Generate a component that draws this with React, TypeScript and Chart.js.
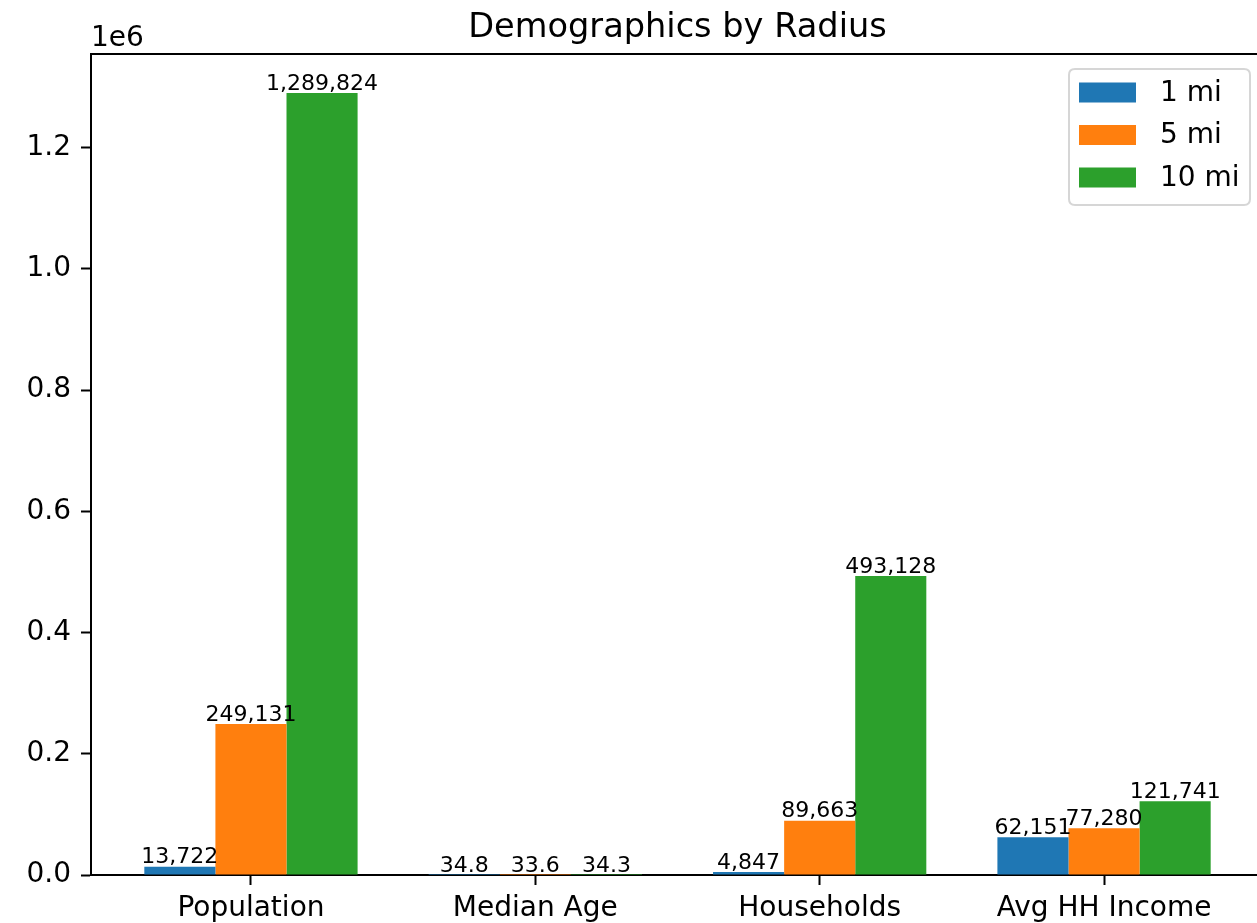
import React, { useEffect, useRef } from "react";
import { Chart, registerables } from "chart.js";

Chart.register(...registerables);

const categories = ["Population", "Median Age", "Households", "Avg HH Income"];
const seriesLabels = ["1 mi", "5 mi", "10 mi"];
const mi1 = [13722, 34.8, 4847, 62151];
const mi5 = [249131, 33.6, 89663, 77280];
const mi10 = [1289824, 34.3, 493128, 121741];
const seriesColors = ["#1f77b4", "#ff7f0e", "#2ca02c"];
const yTickValues = [0, 200000, 400000, 600000, 800000, 1000000, 1200000];
const titleText = "Demographics by Radius";
const offsetText = "1e6";

const FONT = "'DejaVu Sans', sans-serif";
const CANVAS_W = 1300;
const CANVAS_H = 923;

const fmt = (v: number) =>
  Number.isInteger(v) ? v.toLocaleString("en-US") : String(v);

const decorPlugin = {
  id: "decor",
  afterDatasetsDraw(chart: any) {
    const ctx = chart.ctx;
    ctx.save();
    ctx.fillStyle = "#000";
    ctx.font = `22px ${FONT}`;
    ctx.textAlign = "center";
    ctx.textBaseline = "bottom";
    chart.data.datasets.forEach((ds: any, di: number) => {
      const meta = chart.getDatasetMeta(di);
      meta.data.forEach((el: any, i: number) => {
        const v = ds.data[i].y;
        ctx.fillText(fmt(v), el.x, el.y + 2);
      });
    });
    ctx.restore();
  },
  afterDraw(chart: any) {
    const ctx = chart.ctx;
    const a = chart.chartArea;
    ctx.save();
    ctx.strokeStyle = "#000";
    ctx.lineWidth = 2;
    ctx.beginPath();
    ctx.moveTo(a.left - 1, a.top);
    ctx.lineTo(a.right + 1, a.top);
    ctx.stroke();
    ctx.beginPath();
    ctx.moveTo(a.right, a.top);
    ctx.lineTo(a.right, a.bottom);
    ctx.stroke();
    ctx.fillStyle = "#000";
    ctx.font = `33.6px ${FONT}`;
    ctx.textAlign = "center";
    ctx.textBaseline = "alphabetic";
    ctx.fillText(titleText, (a.left + a.right) / 2, a.top - 17);
    ctx.font = `28px ${FONT}`;
    ctx.textAlign = "left";
    ctx.fillText(offsetText, a.left, a.top - 8);
    const bx = 1069, by = 69, bw = 181, bh = 136, r = 6;
    ctx.beginPath();
    ctx.moveTo(bx + r, by);
    ctx.lineTo(bx + bw - r, by);
    ctx.quadraticCurveTo(bx + bw, by, bx + bw, by + r);
    ctx.lineTo(bx + bw, by + bh - r);
    ctx.quadraticCurveTo(bx + bw, by + bh, bx + bw - r, by + bh);
    ctx.lineTo(bx + r, by + bh);
    ctx.quadraticCurveTo(bx, by + bh, bx, by + bh - r);
    ctx.lineTo(bx, by + r);
    ctx.quadraticCurveTo(bx, by, bx + r, by);
    ctx.closePath();
    ctx.fillStyle = "rgba(255,255,255,0.8)";
    ctx.fill();
    ctx.strokeStyle = "#d6d6d6";
    ctx.lineWidth = 2;
    ctx.stroke();
    ctx.textBaseline = "middle";
    ctx.font = `28px ${FONT}`;
    chart.data.datasets.forEach((ds: any, i: number) => {
      const cy = 92.5 + i * 42.5;
      ctx.fillStyle = ds.backgroundColor;
      ctx.fillRect(1079, cy - 10, 57, 20);
      ctx.fillStyle = "#000";
      ctx.fillText(ds.label, 1160, cy + 1);
    });
    ctx.restore();
  },
};

export default function App() {
  const ref = useRef<HTMLCanvasElement | null>(null);
  useEffect(() => {
    if (!ref.current) return;
    const all = [mi1, mi5, mi10];
    const chart = new Chart(ref.current, {
      type: "bar",
      data: {
        datasets: all.map((vals, di) => ({
          label: seriesLabels[di],
          data: vals.map((v, i) => ({ x: i, y: v })),
          backgroundColor: seriesColors[di],
          borderWidth: 0,
          categoryPercentage: 0.75,
          barPercentage: 1,
        })),
      },
      options: {
        animation: false,
        responsive: false,
        devicePixelRatio: 1,
        layout: { padding: { left: 0, top: 54, right: CANVAS_W - 1264, bottom: 0 } },
        plugins: {
          legend: { display: false },
          title: { display: false },
          tooltip: { enabled: false },
        },
        scales: {
          x: {
            type: "linear",
            bounds: "data",
            offset: false,
            min: -0.5625,
            max: 3.5625,
            afterBuildTicks: (s: any) => {
              s.ticks = categories.map((_, i) => ({ value: i }));
            },
            afterFit: (s: any) => {
              s.height = CANVAS_H - 875;
            },
            ticks: {
              color: "#000",
              font: { family: FONT, size: 28 },
              padding: 7,
              maxRotation: 0,
              autoSkip: false,
              callback: (v: any) => categories[Math.round(Number(v))] ?? "",
            },
            grid: {
              offset: false,
              drawOnChartArea: false,
              drawTicks: true,
              tickLength: 10,
              tickWidth: 2,
              tickColor: "#000",
            },
            border: { display: true, color: "#000", width: 2 },
          },
          y: {
            type: "linear",
            bounds: "data",
            min: 0,
            max: Math.max(...mi10) * 1.05,
            afterBuildTicks: (s: any) => {
              s.ticks = yTickValues.map((v) => ({ value: v }));
            },
            afterFit: (s: any) => {
              s.width = 91;
            },
            ticks: {
              color: "#000",
              font: { family: FONT, size: 28 },
              padding: 10,
              callback: (v: any) => (Number(v) / 1e6).toFixed(1),
            },
            grid: {
              drawOnChartArea: false,
              drawTicks: true,
              tickLength: 10,
              tickWidth: 2,
              tickColor: "#000",
            },
            border: { display: true, color: "#000", width: 2 },
          },
        },
      },
      plugins: [decorPlugin],
    } as any);
    return () => chart.destroy();
  }, []);
  return (
    <div
      style={{
        position: "absolute",
        left: 0,
        top: 0,
        width: 1257,
        height: CANVAS_H,
        overflow: "hidden",
        background: "#fff",
      }}
    >
      <canvas ref={ref} width={CANVAS_W} height={CANVAS_H} style={{ display: "block" }} />
    </div>
  );
}
